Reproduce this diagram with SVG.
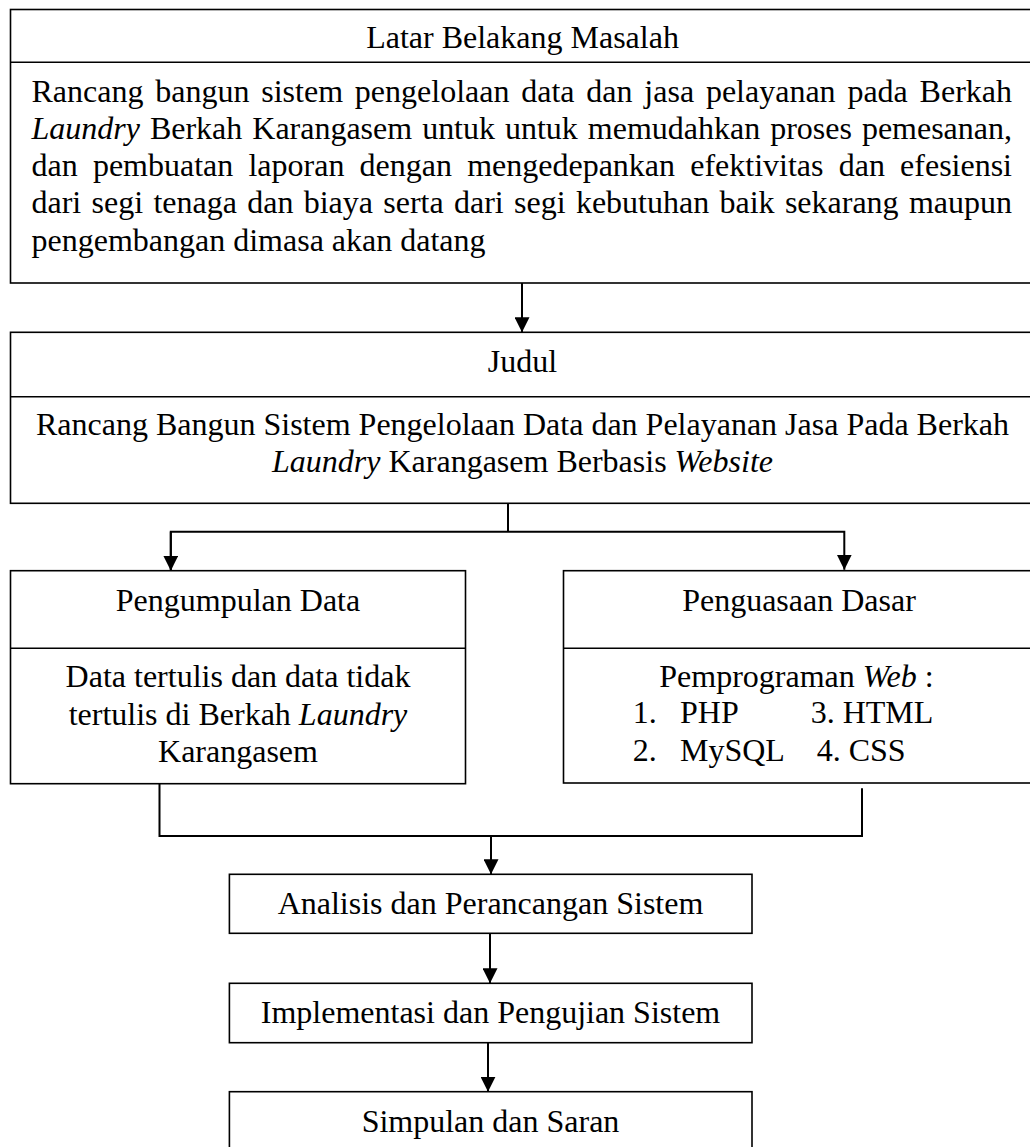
<svg xmlns="http://www.w3.org/2000/svg" width="1030" height="1147" viewBox="0 0 1030 1147">
<style>
  .box{fill:#fff;stroke:#000;stroke-width:1.6}
  .sep{stroke:#000;stroke-width:1.6;fill:none}
  .t{font-family:"Liberation Serif","Times New Roman",serif;font-size:32px;fill:#000}
  .c{text-anchor:middle}
  .i{font-style:italic}
  .con{stroke:#000;stroke-width:2;fill:none}
</style>
<defs>
  <marker id="ah" viewBox="0 0 15 15" refX="15" refY="7.5" markerWidth="15" markerHeight="15" markerUnits="userSpaceOnUse" orient="auto">
    <path d="M0,0 L15,7.5 L0,15 Z" fill="#000"/>
  </marker>
</defs>
<rect width="1030" height="1147" fill="#fff"/>

<g id="latar">
  <rect class="box" x="10.5" y="9.5" width="1024" height="273.5"/>
  <line class="sep" x1="10.5" y1="62.3" x2="1034.5" y2="62.3"/>
  <text class="t c" x="522.5" y="48">Latar Belakang Masalah</text>
  <text class="t" x="31.5" y="102" word-spacing="3.8" textLength="980.5" lengthAdjust="spacing">Rancang bangun sistem pengelolaan data dan jasa pelayanan pada Berkah</text>
  <text class="t" x="31.5" y="139" word-spacing="2" textLength="980.5" lengthAdjust="spacing"><tspan class="i">Laundry</tspan> Berkah Karangasem untuk untuk memudahkan proses pemesanan,</text>
  <text class="t" x="31.5" y="176" word-spacing="7.2" textLength="980.5" lengthAdjust="spacing">dan pembuatan laporan dengan mengedepankan efektivitas dan efesiensi</text>
  <text class="t" x="31.5" y="213" word-spacing="2.3" textLength="980.5" lengthAdjust="spacing">dari segi tenaga dan biaya serta dari segi kebutuhan baik sekarang maupun</text>
  <text class="t" x="31.5" y="250.5">pengembangan dimasa akan datang</text>
</g>

<g id="judul">
  <rect class="box" x="10.5" y="332.3" width="1024" height="171"/>
  <line class="sep" x1="10.5" y1="396.7" x2="1034.5" y2="396.7"/>
  <text class="t c" x="522.5" y="371.7">Judul</text>
  <text class="t c" x="522.5" y="435">Rancang Bangun Sistem Pengelolaan Data dan Pelayanan Jasa Pada Berkah</text>
  <text class="t c" x="522.5" y="472.3"><tspan class="i">Laundry</tspan> Karangasem Berbasis <tspan class="i">Website</tspan></text>
</g>

<g id="pengumpulan">
  <rect class="box" x="10.5" y="570.7" width="455" height="213"/>
  <line class="sep" x1="10.5" y1="648.3" x2="465.5" y2="648.3"/>
  <text class="t c" x="238" y="611">Pengumpulan Data</text>
  <text class="t c" x="238" y="687.3">Data tertulis dan data tidak</text>
  <text class="t c" x="238" y="725">tertulis di Berkah <tspan class="i">Laundry</tspan></text>
  <text class="t c" x="238" y="761.7">Karangasem</text>
</g>

<g id="penguasaan">
  <rect class="box" x="563.5" y="570.7" width="471" height="212.3"/>
  <line class="sep" x1="563.5" y1="648.3" x2="1034.5" y2="648.3"/>
  <text class="t c" x="799" y="611">Penguasaan Dasar</text>
  <text class="t" x="659.3" y="686.7">Pemprograman <tspan class="i">Web</tspan> :</text>
  <text class="t" y="723.3"><tspan x="632.7">1.</tspan><tspan x="680">PHP</tspan><tspan x="810.7">3. HTML</tspan></text>
  <text class="t" y="760.7"><tspan x="632.7">2.</tspan><tspan x="680">MySQL</tspan><tspan x="816.7">4. CSS</tspan></text>
</g>

<g id="analisis">
  <rect class="box" x="229.4" y="874.3" width="522.6" height="59"/>
  <text class="t c" x="490.5" y="914">Analisis dan Perancangan Sistem</text>
</g>

<g id="implementasi">
  <rect class="box" x="229.4" y="983.3" width="522.6" height="59.4"/>
  <text class="t c" x="490.5" y="1023.3">Implementasi dan Pengujian Sistem</text>
</g>

<g id="simpulan">
  <rect class="box" x="229.4" y="1091.7" width="522.6" height="70"/>
  <text class="t c" x="490.5" y="1131.7">Simpulan dan Saran</text>
</g>

<g id="connectors">
  <line class="con" x1="522" y1="283" x2="522" y2="332.3" marker-end="url(#ah)"/>
  <polyline class="con" points="508,503.3 508,531.7"/>
  <polyline class="con" points="170.8,569.7 170.8,531.7 844.3,531.7 844.3,569.7" marker-end="url(#ah)"/>
  <line class="con" x1="170.8" y1="531.7" x2="170.8" y2="570.7" marker-end="url(#ah)"/>
  <polyline class="con" points="159.5,783.3 159.5,836 862,836 862,788.3"/>
  <line class="con" x1="491" y1="836" x2="491" y2="874.3" marker-end="url(#ah)"/>
  <line class="con" x1="490" y1="933.3" x2="490" y2="983.3" marker-end="url(#ah)"/>
  <line class="con" x1="488" y1="1042.7" x2="488" y2="1091.7" marker-end="url(#ah)"/>
</g>
</svg>
